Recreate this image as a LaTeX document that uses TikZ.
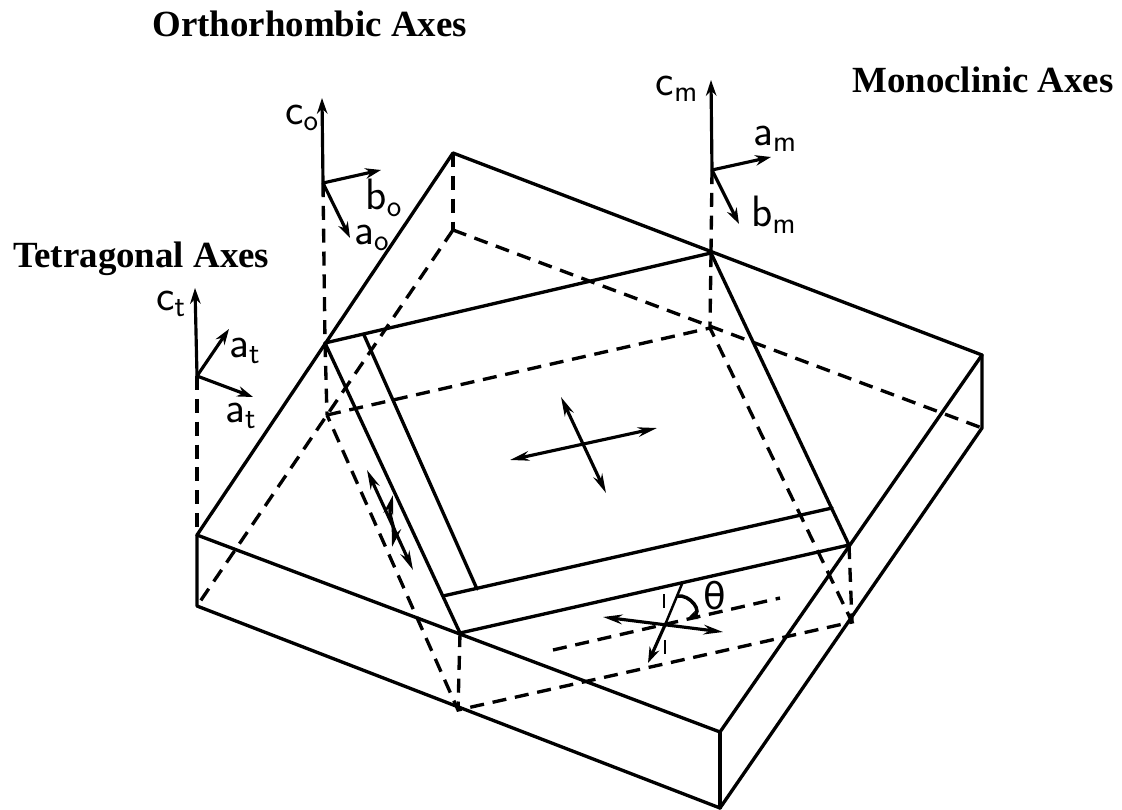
\documentclass[tikz,border=0pt]{standalone}
\usepackage{fontspec}
\setmainfont{Liberation Serif}
\newfontfamily\labelfont{DejaVu Sans}
\usetikzlibrary{arrows.meta}
\tikzset{
  edge/.style={line width=1.9pt, line cap=round, line join=round},
  hidden/.style={line width=1.9pt, dash pattern=on 8pt off 5pt},
  axis/.style={line width=1.8pt, -{Stealth[length=9pt,width=6pt]}},
  strain/.style={line width=1.8pt, {Stealth[length=11pt,width=5.5pt]}-{Stealth[length=11pt,width=5.5pt]}},
  title/.style={font=\bfseries\fontsize{21}{24}\selectfont, inner sep=0pt, anchor=base west},
  axlabel/.style={font=\fontsize{25}{28}\selectfont, inner sep=0pt}
}
\newcommand{\axname}[2]{$\mathsf{#1}_{\mathsf{#2}}$}
\begin{document}
\begin{tikzpicture}[x=0.02cm, y=-0.02cm]
\useasboundingbox (0,0) rectangle (1122,810);
% Slab corners (reference pixels)
\coordinate (apex) at (453,153);
\coordinate (rtop) at (982,355);
\coordinate (ftop) at (720,732);
\coordinate (ltop) at (197,535);
\coordinate (rbot) at (982,428);
\coordinate (fbot) at (720,808);
\coordinate (lbot) at (197,606);
\coordinate (back) at (453,230);
% Film corners, upper and lower
\coordinate (fa) at (325,343);
\coordinate (fb) at (711,253);
\coordinate (fc) at (849,545);
\coordinate (fd) at (460,633);
\coordinate (ga) at (327,415);
\coordinate (gb) at (710,328);
\coordinate (gc) at (852,622);
\coordinate (gd) at (458,710);
% Axis origins
\coordinate (ot) at (197,376);
\coordinate (oo) at (323,183);
\coordinate (om) at (712,170);
\coordinate (xs) at (665,625);

% Slab
\draw[edge] (apex) -- (rtop) -- (ftop) -- (ltop) -- cycle;
\draw[edge] (ltop) -- (lbot) -- (fbot) -- (rbot) -- (rtop);
\draw[edge] (ftop) -- (fbot);
\draw[hidden] (apex) -- (back);
\draw[hidden] (back) -- (lbot);
\draw[hidden] (back) -- (rbot);

% Film
\draw[edge] (fa) -- (fb) -- (fc) -- (fd) -- cycle;
\draw[edge] (364,335) -- (477,589);
\draw[edge] (443,596) -- (832,508);
\draw[hidden] (ga) -- (gb) -- (gc) -- (gd) -- cycle;
\draw[hidden] (fa) -- (ga);
\draw[hidden] (fb) -- (gb);
\draw[hidden] (fc) -- (gc);
\draw[hidden] (fd) -- (gd);

% Tetragonal axes
\draw[axis] (ot) -- (195,288) coordinate (ct);
\draw[axis] (ot) -- (229,329) coordinate (at1);
\draw[axis] (ot) -- (253,397) coordinate (at2);
\draw[hidden] (ot) -- (ltop);
% Orthorhombic axes
\draw[axis] (oo) -- (322,98) coordinate (co);
\draw[axis] (oo) -- (350,238) coordinate (ao);
\draw[axis] (oo) -- (381,170) coordinate (bo);
\draw[hidden] (oo) -- (fa);
% Monoclinic axes
\draw[axis] (om) -- (711,80) coordinate (cm);
\draw[axis] (om) -- (771,157) coordinate (am);
\draw[axis] (om) -- (739,224) coordinate (bm);
\draw[hidden] (om) -- (fb);

% Strain crosses
\draw[strain] (510,460) -- (657,428);
\draw[strain] (561,397) -- (606,493);
\draw[strain] (367,470) -- (413,570);
\draw[strain] (393,495) .. controls (388,515) and (396,530) .. (392,547);
\draw[strain] (603,617) -- (723,632);
\draw[axis] (xs) -- (648,663);
\draw[edge, line width=1.4pt] (xs) -- (682,584);
\draw[hidden] (553,650) -- (780,598);
\draw[hidden, line width=1.4pt] (665,640) -- (665,660);
\draw[hidden, line width=1.6pt] (664,594) -- (664,612);
\draw[line width=2pt, -{Stealth[length=6pt,width=5pt]}] (677,596) .. controls (690,594) and (704,612) .. (687,619);

% Texts
\node[title] (orth) at (152,37) {Orthorhombic Axes};
\node[title] (mono) at (852,93) {Monoclinic Axes};
\node[title] (tetr) at (13,268) {Tetragonal Axes};
\node[axlabel] (lct) at (171,304) {\axname{c}{t}};
\node[axlabel] (lat1) at (245,351) {\axname{a}{t}};
\node[axlabel] (lat2) at (241,416) {\axname{a}{t}};
\node[axlabel] (lco) at (302,118) {\axname{c}{o}};
\node[axlabel] (lbo) at (384,198) {\axname{b}{o}};
\node[axlabel] (lao) at (372,238) {\axname{a}{o}};
\node[axlabel] (lcm) at (677,89) {\axname{c}{m}};
\node[axlabel] (lam) at (775,139) {\axname{a}{m}};
\node[axlabel] (lbm) at (774,215) {\axname{b}{m}};
\node[axlabel] (lth) at (715,596) {\labelfont\fontsize{21}{24}\selectfont θ};
\end{tikzpicture}
\end{document}
